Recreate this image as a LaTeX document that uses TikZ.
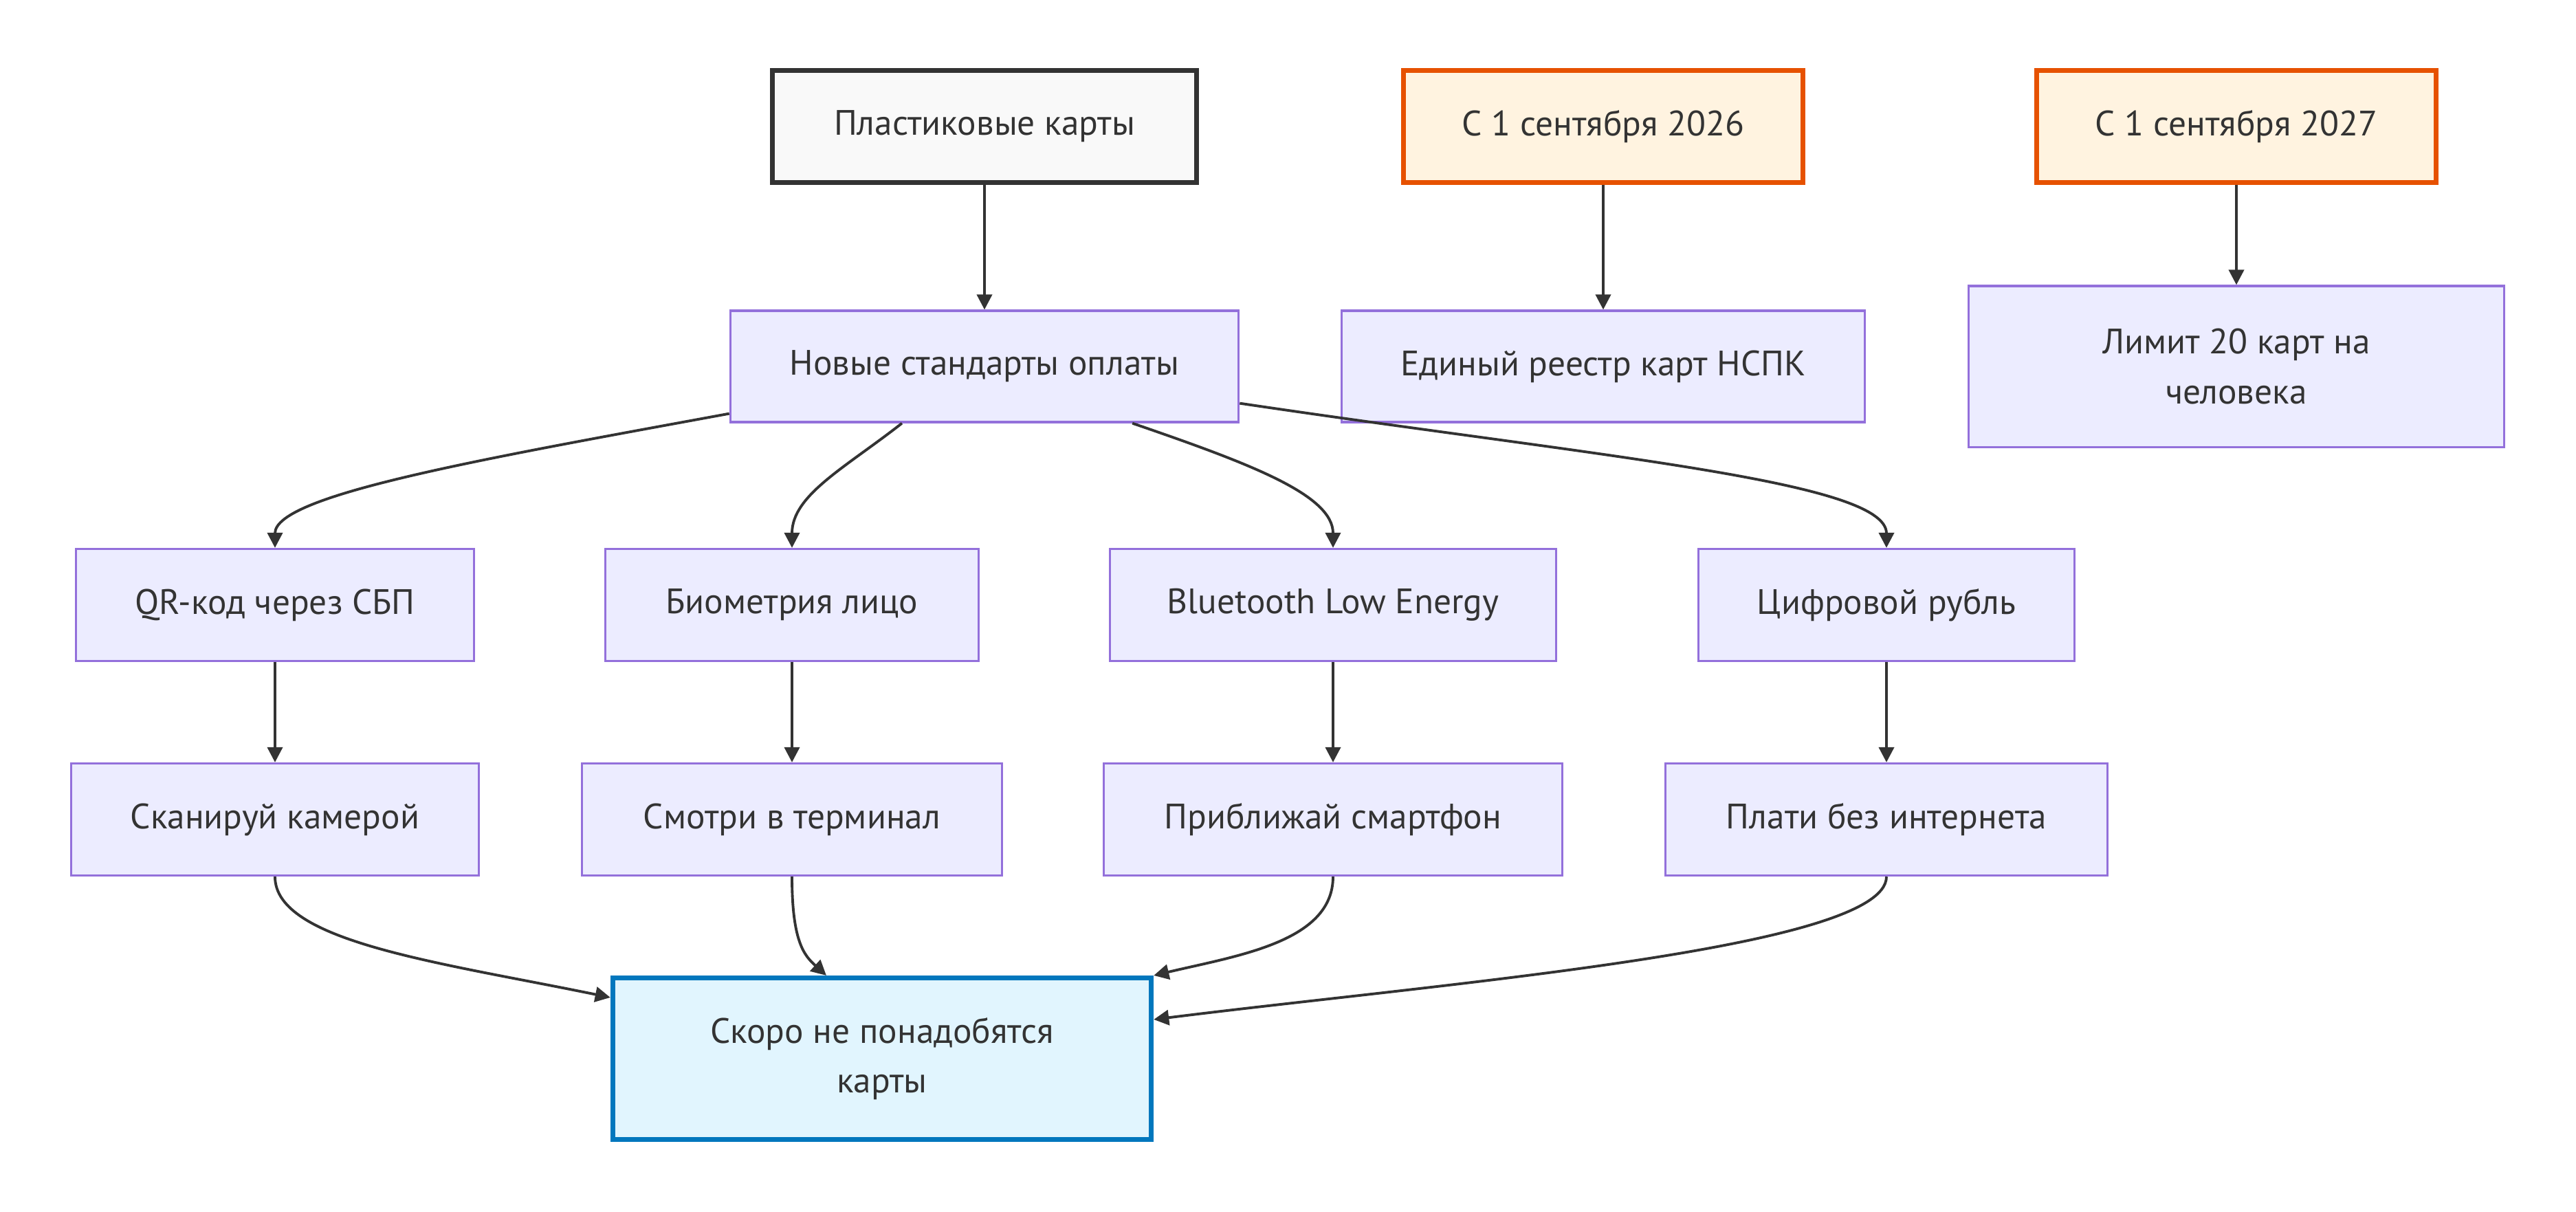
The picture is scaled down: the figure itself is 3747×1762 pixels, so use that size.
\documentclass[tikz,border=0pt]{standalone}
\usepackage{fontspec}
\setmainfont{PT Sans}
\usetikzlibrary{arrows.meta}
\definecolor{txt}{HTML}{333333}
\definecolor{purp}{HTML}{9370DB}
\definecolor{lav}{HTML}{ECECFF}
\definecolor{orangeb}{HTML}{E65100}
\definecolor{orangef}{HTML}{FFF3E0}
\definecolor{blueb}{HTML}{0277BD}
\definecolor{bluef}{HTML}{E1F5FE}
\definecolor{greyf}{HTML}{F9F9F9}
\tikzset{
  base/.style={rectangle, inner sep=0pt, align=center, text=txt,
    font=\fontsize{14.6}{20.5}\selectfont},
  plain/.style={base, draw=purp, fill=lav, line width=0.9pt},
  startbox/.style={base, draw=txt, fill=greyf, line width=2pt},
  datebox/.style={base, draw=orangeb, fill=orangef, line width=2pt},
  endbox/.style={base, draw=blueb, fill=bluef, line width=2pt},
  conn/.style={draw=txt, line width=1.1pt, -{Triangle[length=0.22cm,width=0.22cm]}}
}
\begin{document}
\begin{tikzpicture}[x=0.01cm, y=-0.01cm]
\useasboundingbox (0,0) rectangle (3747,1762);
% top row
\node[startbox, minimum width=6.17cm, minimum height=1.62cm] (A) at (1432,184) {Пластиковые карты};
\node[datebox, minimum width=5.81cm, minimum height=1.62cm] (B) at (2332,184) {С 1 сентября 2026};
\node[datebox, minimum width=5.81cm, minimum height=1.62cm] (C) at (3253,184) {С 1 сентября 2027};
% second row
\node[plain, minimum width=7.39cm, minimum height=1.62cm] (D) at (1432,533) {Новые стандарты оплаты};
\node[plain, minimum width=7.60cm, minimum height=1.62cm] (E) at (2332,533) {Единый реестр карт НСПК};
\node[plain, minimum width=7.79cm, minimum height=2.34cm] (F) at (3253,533) {Лимит 20 карт на\\человека};
% third row
\node[plain, minimum width=5.78cm, minimum height=1.63cm] (G) at (400,880) {QR-код через СБП};
\node[plain, minimum width=5.42cm, minimum height=1.63cm] (H) at (1152,880) {Биометрия лицо};
\node[plain, minimum width=6.48cm, minimum height=1.63cm] (I) at (1939,880) {Bluetooth Low Energy};
\node[plain, minimum width=5.47cm, minimum height=1.63cm] (J) at (2744,880) {Цифровой рубль};
% fourth row
\node[plain, minimum width=5.93cm, minimum height=1.63cm] (K) at (400,1192) {Сканируй камерой};
\node[plain, minimum width=6.10cm, minimum height=1.63cm] (L) at (1152,1192) {Смотри в терминал};
\node[plain, minimum width=6.67cm, minimum height=1.63cm] (M) at (1939,1192) {Приближай смартфон};
\node[plain, minimum width=6.43cm, minimum height=1.63cm] (N) at (2744,1192) {Плати без интернета};
% bottom
\node[endbox, minimum width=7.83cm, minimum height=2.35cm] (O) at (1283,1540) {Скоро не понадобятся\\карты};
% connectors
\draw[conn] (A.south) -- (D.north);
\draw[conn] (B.south) -- (E.north);
\draw[conn] (C.south) -- (F.north);
\draw[conn] ([yshift=0.14cm]D.south west) .. controls (700,668) and (400,720) .. (G.north);
\draw[conn] ([xshift=-1.20cm]D.south) .. controls (1230,680) and (1152,720) .. (H.north);
\draw[conn] ([xshift=2.15cm]D.south) .. controls (1820,675) and (1939,720) .. (I.north);
\draw[conn] ([yshift=0.29cm]D.south east) .. controls (2330,665) and (2744,700) .. (J.north);
\draw[conn] (G.south) -- (K.north);
\draw[conn] (H.south) -- (L.north);
\draw[conn] (I.south) -- (M.north);
\draw[conn] (J.south) -- (N.north);
\draw[conn] (K.south) .. controls (400,1370) and (640,1400) .. ([yshift=-0.32cm]O.north west);
\draw[conn] (L.south) .. controls (1152,1370) and (1170,1390) .. ([xshift=-0.81cm]O.north);
\draw[conn] (M.south) .. controls (1939,1370) and (1800,1390) .. (O.north east);
\draw[conn] (N.south) .. controls (2744,1380) and (2100,1430) .. ([yshift=-0.64cm]O.north east);
\end{tikzpicture}
\end{document}
